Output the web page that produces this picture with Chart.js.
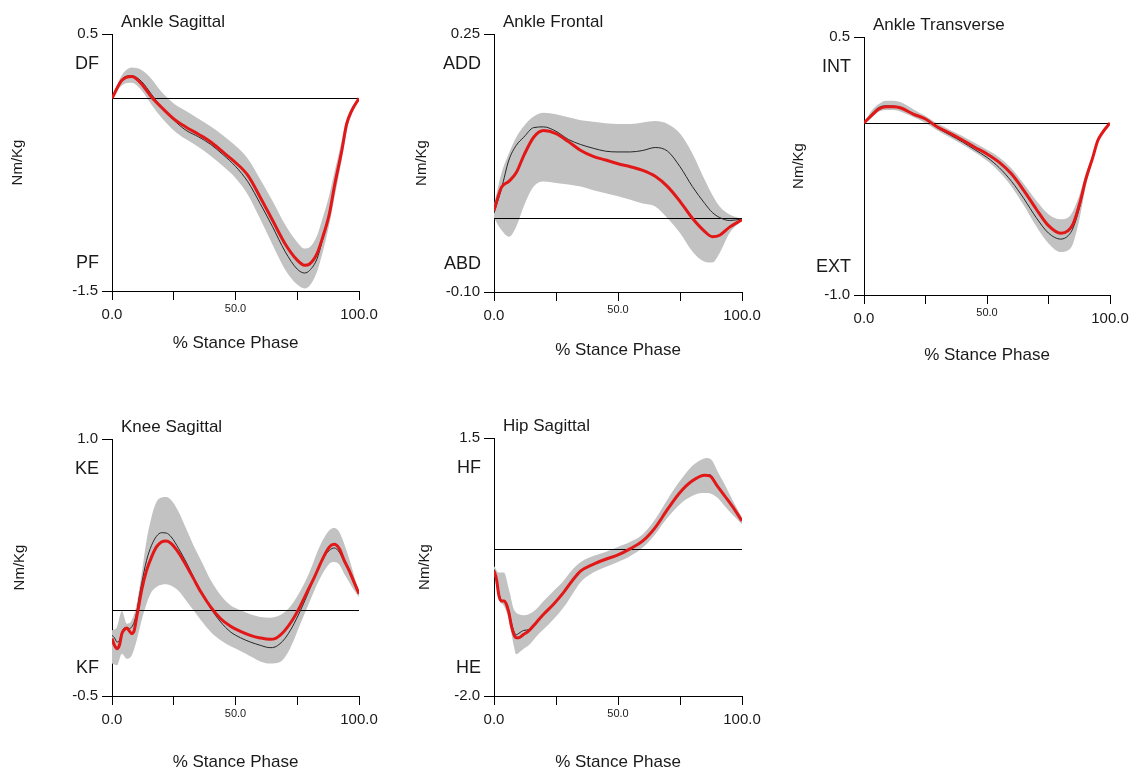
<!DOCTYPE html>
<html>
<head>
<meta charset="utf-8">
<script src="https://cdn.jsdelivr.net/npm/chart.js@4.4.1/dist/chart.umd.min.js"></script>
<style>
  html, body { margin: 0; padding: 0; background: #fff; overflow: hidden; }
  #wrap { position: relative; width: 1137px; height: 776px; }
  canvas { position: absolute; }
</style>
</head>
<body>
<div id="wrap">
  <canvas id="ankleSag"></canvas>
  <canvas id="ankleFront"></canvas>
  <canvas id="ankleTrans"></canvas>
  <canvas id="kneeSag"></canvas>
  <canvas id="hipSag"></canvas>
</div>
<script>
// x axis (% stance)
const xTickValues = [0, 25, 50, 75, 100];
const xTickLabels = ["0.0", "", "50.0", "", "100.0"];

// Ankle sagittal
const ankleSagX = [0, 4, 8, 12, 16, 20, 25, 30, 35, 40, 45, 50, 55, 60, 65, 70, 75, 78, 80, 83, 85, 88, 90, 93, 95, 97, 100];
const ankleSagSubject = [0, 0.14, 0.17, 0.11, 0.01, -0.07, -0.16, -0.225, -0.28, -0.34, -0.42, -0.50, -0.60, -0.77, -0.95, -1.13, -1.26, -1.30, -1.29, -1.21, -1.10, -0.90, -0.69, -0.41, -0.20, -0.10, 0];
const ankleSagMean = [0, 0.15, 0.175, 0.13, 0.03, -0.07, -0.17, -0.25, -0.30, -0.36, -0.44, -0.53, -0.65, -0.82, -1.00, -1.19, -1.33, -1.36, -1.34, -1.25, -1.12, -0.90, -0.68, -0.40, -0.20, -0.09, 0];
const ankleSagUpper = [0, 0.18, 0.24, 0.22, 0.15, 0.05, -0.04, -0.10, -0.16, -0.22, -0.29, -0.37, -0.47, -0.63, -0.80, -0.98, -1.12, -1.17, -1.16, -1.07, -0.95, -0.75, -0.58, -0.33, -0.16, -0.07, 0];
const ankleSagLower = [0, 0.10, 0.12, 0.06, -0.05, -0.15, -0.25, -0.32, -0.38, -0.45, -0.53, -0.62, -0.75, -0.94, -1.14, -1.33, -1.45, -1.48, -1.46, -1.35, -1.22, -0.98, -0.78, -0.48, -0.26, -0.12, 0];
const ankleSagYTicks = [-1.5, 0.5];
const ankleSagYLabels = ["-1.5", "0.5"];

// Ankle frontal
const ankleFrontX = [0, 3, 6, 9, 12, 16, 20, 25, 30, 35, 40, 45, 50, 55, 60, 65, 70, 75, 80, 85, 88, 91, 95, 100];
const ankleFrontSubject = [0.011, 0.042, 0.05, 0.062, 0.085, 0.11, 0.119, 0.115, 0.104, 0.092, 0.084, 0.079, 0.074, 0.07, 0.065, 0.057, 0.043, 0.023, 0.0, -0.018, -0.025, -0.023, -0.012, -0.002];
const ankleFrontMean = [0.007, 0.04, 0.079, 0.099, 0.11, 0.123, 0.124, 0.118, 0.107, 0.1, 0.095, 0.091, 0.09, 0.09, 0.092, 0.096, 0.091, 0.07, 0.043, 0.02, 0.008, 0.001, -0.003, -0.001];
const ankleFrontUpper = [0.018, 0.061, 0.088, 0.11, 0.125, 0.138, 0.143, 0.141, 0.137, 0.133, 0.131, 0.129, 0.128, 0.128, 0.13, 0.132, 0.128, 0.115, 0.088, 0.052, 0.032, 0.016, 0.005, -0.001];
const ankleFrontLower = [0.0, -0.016, -0.025, -0.011, 0.016, 0.043, 0.05, 0.048, 0.046, 0.043, 0.038, 0.034, 0.03, 0.025, 0.02, 0.016, 0.0, -0.02, -0.045, -0.059, -0.06, -0.047, -0.02, -0.003];
const ankleFrontYTicks = [-0.10, 0.25];
const ankleFrontYLabels = ["-0.10", "0.25"];

// Ankle transverse
const ankleTransX = [0, 3, 6, 9, 12, 15, 20, 25, 30, 35, 40, 45, 50, 55, 60, 65, 70, 75, 80, 83, 85, 88, 90, 93, 95, 97, 100];
const ankleTransSubject = [0, 0.043, 0.081, 0.095, 0.095, 0.087, 0.052, 0.023, -0.025, -0.06, -0.099, -0.141, -0.18, -0.229, -0.297, -0.393, -0.5, -0.597, -0.641, -0.626, -0.587, -0.452, -0.335, -0.2, -0.103, -0.054, 0];
const ankleTransMean = [0, 0.05, 0.09, 0.10, 0.098, 0.09, 0.055, 0.02, -0.03, -0.07, -0.11, -0.155, -0.2, -0.26, -0.34, -0.44, -0.55, -0.64, -0.675, -0.655, -0.61, -0.47, -0.34, -0.2, -0.11, -0.055, 0];
const ankleTransUpper = [0, 0.07, 0.11, 0.13, 0.13, 0.12, 0.08, 0.04, -0.005, -0.04, -0.075, -0.115, -0.155, -0.2, -0.265, -0.355, -0.45, -0.53, -0.56, -0.55, -0.51, -0.4, -0.3, -0.18, -0.095, -0.05, 0];
const ankleTransLower = [0, 0.03, 0.065, 0.075, 0.075, 0.065, 0.035, 0.0, -0.045, -0.085, -0.125, -0.17, -0.22, -0.285, -0.37, -0.48, -0.6, -0.7, -0.75, -0.74, -0.7, -0.53, -0.38, -0.22, -0.12, -0.06, 0];
const ankleTransYTicks = [-1.0, 0.5];
const ankleTransYLabels = ["-1.0", "0.5"];

// Knee sagittal
const kneeSagX = [0, 1, 2, 3, 4, 5, 6, 7, 8, 9, 10, 11, 12, 14, 16, 18, 20, 22, 24, 27, 30, 33, 36, 40, 44, 48, 52, 56, 60, 64, 66, 68, 70, 73, 76, 79, 82, 85, 88, 90, 92, 94, 96, 98, 100];
const kneeSagSubject = [-0.165, -0.204, -0.224, -0.204, -0.136, -0.113, -0.103, -0.12, -0.136, -0.117, -0.039, 0.039, 0.117, 0.233, 0.311, 0.37, 0.399, 0.405, 0.389, 0.335, 0.263, 0.185, 0.107, 0.019, -0.049, -0.093, -0.123, -0.146, -0.161, -0.169, -0.165, -0.146, -0.117, -0.058, 0.019, 0.107, 0.195, 0.292, 0.37, 0.385, 0.36, 0.292, 0.233, 0.165, 0.097];
const kneeSagMean = [-0.146, -0.16, -0.185, -0.175, -0.126, -0.103, -0.101, -0.107, -0.097, -0.068, -0.01, 0.078, 0.156, 0.292, 0.379, 0.432, 0.453, 0.451, 0.428, 0.36, 0.282, 0.195, 0.107, 0.01, -0.068, -0.126, -0.16, -0.185, -0.204, -0.218, -0.214, -0.195, -0.165, -0.097, -0.01, 0.088, 0.195, 0.292, 0.35, 0.364, 0.34, 0.282, 0.224, 0.156, 0.097];
const kneeSagBandX = [0, 2, 4, 6, 8, 10, 12, 14, 16, 18, 20, 22, 24, 27, 30, 33, 36, 40, 44, 48, 52, 56, 60, 64, 68, 72, 76, 80, 84, 88, 90, 92, 94, 96, 98, 100];
const kneeSagUpper = [-0.117, -0.097, -0.004, -0.078, -0.058, 0.039, 0.214, 0.409, 0.545, 0.632, 0.658, 0.661, 0.642, 0.574, 0.477, 0.379, 0.292, 0.175, 0.088, 0.029, 0, -0.023, -0.039, -0.043, -0.029, 0.019, 0.107, 0.224, 0.37, 0.467, 0.48, 0.457, 0.389, 0.302, 0.204, 0.107];
const kneeSagLower = [-0.311, -0.321, -0.253, -0.282, -0.263, -0.175, -0.058, 0.039, 0.107, 0.136, 0.15, 0.152, 0.144, 0.113, 0.058, 0, -0.058, -0.126, -0.175, -0.21, -0.237, -0.268, -0.298, -0.311, -0.302, -0.225, -0.088, 0.05, 0.18, 0.272, 0.282, 0.267, 0.214, 0.165, 0.117, 0.078];
const kneeSagYTicks = [-0.5, 1.0];
const kneeSagYLabels = ["-0.5", "1.0"];

// Hip sagittal
const hipSagX = [0, 1, 2, 3, 4, 5, 6, 7, 8, 9, 10, 12, 14, 17, 20, 24, 28, 32, 35, 40, 45, 50, 55, 60, 65, 70, 75, 80, 85, 87, 90, 93, 96, 100];
const hipSagSubject = [-0.303, -0.416, -0.643, -0.71, -0.71, -0.756, -0.87, -1.05, -1.163, -1.209, -1.209, -1.163, -1.118, -1.005, -0.892, -0.756, -0.598, -0.416, -0.303, -0.213, -0.145, -0.086, 0, 0.104, 0.285, 0.534, 0.761, 0.919, 0.996, 0.987, 0.851, 0.715, 0.579, 0.376];
const hipSagMean = [-0.28, -0.40, -0.60, -0.70, -0.71, -0.74, -0.84, -1.0, -1.12, -1.17, -1.15, -1.11, -1.10, -1.0, -0.89, -0.75, -0.59, -0.41, -0.30, -0.21, -0.14, -0.08, 0.0, 0.10, 0.28, 0.53, 0.76, 0.92, 1.0, 1.0, 0.86, 0.72, 0.58, 0.38];
const hipSagBandX = [0, 2, 4, 6, 8, 9, 10, 12, 14, 17, 20, 24, 28, 32, 35, 40, 45, 50, 55, 60, 65, 70, 75, 80, 84, 86, 88, 90, 93, 96, 100];
const hipSagUpper = [-0.235, -0.326, -0.326, -0.552, -0.824, -0.87, -0.892, -0.905, -0.892, -0.824, -0.711, -0.575, -0.439, -0.272, -0.181, -0.1, -0.045, 0.023, 0.091, 0.195, 0.398, 0.67, 0.919, 1.123, 1.213, 1.227, 1.19, 1.055, 0.874, 0.67, 0.421];
const hipSagLower = [-0.326, -0.688, -0.779, -0.96, -1.322, -1.435, -1.412, -1.358, -1.313, -1.195, -1.096, -0.96, -0.801, -0.598, -0.453, -0.326, -0.249, -0.181, -0.1, 0.014, 0.195, 0.421, 0.602, 0.715, 0.755, 0.755, 0.738, 0.693, 0.579, 0.466, 0.33];
const hipSagYTicks = [-2.0, 1.5];
const hipSagYLabels = ["-2.0", "1.5"];

const FONT = "'Liberation Sans', Arial, sans-serif";
const TEXT = "#1a1a1a";
const AXIS_W = 112, PAD_TOP = 40, PAD_RIGHT = 25, XAXIS_H = 80;

const pts = (xs, ys) => xs.map((x, i) => ({ x: x, y: ys[i] }));

// chart name, direction labels and the zero line
const gaitDecor = {
  id: "gaitDecor",
  beforeDatasetDraw(chart, args, opts) {
    if (args.index !== 1) return;
    const { ctx, chartArea } = chart;
    const y0 = Math.round(chart.scales.y.getPixelForValue(0)) + 0.5;
    ctx.save();
    ctx.strokeStyle = "#000";
    ctx.lineWidth = 1;
    ctx.beginPath();
    ctx.moveTo(chartArea.left, y0);
    ctx.lineTo(chartArea.right, y0);
    ctx.stroke();
    ctx.restore();
  },
  afterDraw(chart, args, opts) {
    const { ctx, chartArea } = chart;
    const h = chartArea.bottom - chartArea.top;
    ctx.save();
    ctx.fillStyle = TEXT;
    ctx.font = "17px " + FONT;
    ctx.textAlign = "left";
    ctx.textBaseline = "alphabetic";
    ctx.fillText(opts.name, chartArea.left + 9, chartArea.top - 7);
    ctx.font = "18px " + FONT;
    ctx.textAlign = "right";
    ctx.textBaseline = "middle";
    ctx.fillText(opts.pos, chartArea.left - 13, chartArea.top + 0.115 * h);
    ctx.fillText(opts.neg, chartArea.left - 13, chartArea.top + 0.89 * h);
    ctx.restore();
  }
};

function gaitChart(id, c) {
  const canvas = document.getElementById(id);
  const left = c.plotLeft - AXIS_W;
  const top = c.plotTop - PAD_TOP;
  const width = AXIS_W + c.plotW + PAD_RIGHT;
  const height = PAD_TOP + c.plotH + XAXIS_H;
  canvas.width = width;
  canvas.height = height;
  canvas.style.left = left + "px";
  canvas.style.top = top + "px";
  canvas.style.width = width + "px";
  canvas.style.height = height + "px";

  const line = { pointRadius: 0, pointHoverRadius: 0, cubicInterpolationMode: "monotone", fill: false };

  return new Chart(canvas, {
    type: "line",
    data: {
      datasets: [
        Object.assign({ label: "Subject", data: pts(c.x, c.subject), borderColor: "rgb(226, 24, 24)", borderWidth: 3 }, line),
        Object.assign({ label: "Mean", data: pts(c.x, c.mean), borderColor: "#262626", borderWidth: 1 }, line),
        Object.assign({}, line, { label: "+1 SD", data: pts(c.bandX, c.upper), borderWidth: 0, borderColor: "rgba(0,0,0,0)", backgroundColor: "#c2c2c2", fill: "+1" }),
        Object.assign({ label: "-1 SD", data: pts(c.bandX, c.lower), borderWidth: 0, borderColor: "rgba(0,0,0,0)" }, line)
      ]
    },
    options: {
      responsive: false,
      animation: false,
      layout: { padding: { left: 0, top: PAD_TOP, right: PAD_RIGHT, bottom: 0 } },
      plugins: {
        legend: { display: false },
        tooltip: { enabled: false },
        gaitDecor: { name: c.name, pos: c.pos, neg: c.neg }
      },
      scales: {
        x: {
          type: "linear",
          min: 0,
          max: 100,
          afterBuildTicks: s => { s.ticks = xTickValues.map(v => ({ value: v })); },
          afterFit: s => { s.height = XAXIS_H; },
          ticks: {
            autoSkip: false,
            maxRotation: 0,
            padding: 3,
            color: TEXT,
            font: ctx => ctx.tick && ctx.tick.value === 50
              ? { family: FONT, size: 11, lineHeight: 1 }
              : { family: FONT, size: 15, lineHeight: 1.6 },
            callback: v => xTickLabels[xTickValues.indexOf(v)]
          },
          grid: { drawOnChartArea: false, tickLength: 9, color: "#000", tickColor: "#000" },
          border: { color: "#000", width: 1 },
          title: {
            display: true,
            text: "% Stance Phase",
            color: TEXT,
            font: { family: FONT, size: 17 },
            padding: { top: 0, bottom: (c.plotTop + c.plotH + XAXIS_H) - 10.2 - c.xTitleY }
          }
        },
        y: {
          type: "linear",
          min: c.yTicks[0],
          max: c.yTicks[1],
          afterBuildTicks: s => { s.ticks = c.yTicks.map(v => ({ value: v })); },
          afterFit: s => { s.width = AXIS_W; },
          ticks: {
            padding: 4,
            color: TEXT,
            font: { family: FONT, size: 15 },
            callback: (v, i) => c.yLabels[i]
          },
          grid: { drawOnChartArea: false, tickLength: 10, color: "#000", tickColor: "#000" },
          border: { color: "#000", width: 1 },
          title: {
            display: true,
            text: "Nm/Kg",
            color: TEXT,
            font: { family: FONT, size: 15 },
            padding: { top: c.yTitleX - left - 9, bottom: 0 }
          }
        }
      }
    },
    plugins: [gaitDecor]
  });
}

gaitChart("ankleSag", {
  name: "Ankle Sagittal", pos: "DF", neg: "PF",
  plotLeft: 112, plotTop: 34, plotW: 247, plotH: 257, yTitleX: 18, xTitleY: 343,
  x: ankleSagX, subject: ankleSagSubject, mean: ankleSagMean,
  bandX: ankleSagX, upper: ankleSagUpper, lower: ankleSagLower,
  yTicks: ankleSagYTicks, yLabels: ankleSagYLabels
});

gaitChart("ankleFront", {
  name: "Ankle Frontal", pos: "ADD", neg: "ABD",
  plotLeft: 494, plotTop: 34, plotW: 248, plotH: 258, yTitleX: 422, xTitleY: 350,
  x: ankleFrontX, subject: ankleFrontSubject, mean: ankleFrontMean,
  bandX: ankleFrontX, upper: ankleFrontUpper, lower: ankleFrontLower,
  yTicks: ankleFrontYTicks, yLabels: ankleFrontYLabels
});

gaitChart("ankleTrans", {
  name: "Ankle Transverse", pos: "INT", neg: "EXT",
  plotLeft: 864, plotTop: 37, plotW: 246, plotH: 258, yTitleX: 799, xTitleY: 355,
  x: ankleTransX, subject: ankleTransSubject, mean: ankleTransMean,
  bandX: ankleTransX, upper: ankleTransUpper, lower: ankleTransLower,
  yTicks: ankleTransYTicks, yLabels: ankleTransYLabels
});

gaitChart("kneeSag", {
  name: "Knee Sagittal", pos: "KE", neg: "KF",
  plotLeft: 112, plotTop: 439, plotW: 247, plotH: 257, yTitleX: 20, xTitleY: 762,
  x: kneeSagX, subject: kneeSagSubject, mean: kneeSagMean,
  bandX: kneeSagBandX, upper: kneeSagUpper, lower: kneeSagLower,
  yTicks: kneeSagYTicks, yLabels: kneeSagYLabels
});

gaitChart("hipSag", {
  name: "Hip Sagittal", pos: "HF", neg: "HE",
  plotLeft: 494, plotTop: 438, plotW: 248, plotH: 258, yTitleX: 425, xTitleY: 762,
  x: hipSagX, subject: hipSagSubject, mean: hipSagMean,
  bandX: hipSagBandX, upper: hipSagUpper, lower: hipSagLower,
  yTicks: hipSagYTicks, yLabels: hipSagYLabels
});
</script>
</body>
</html>
